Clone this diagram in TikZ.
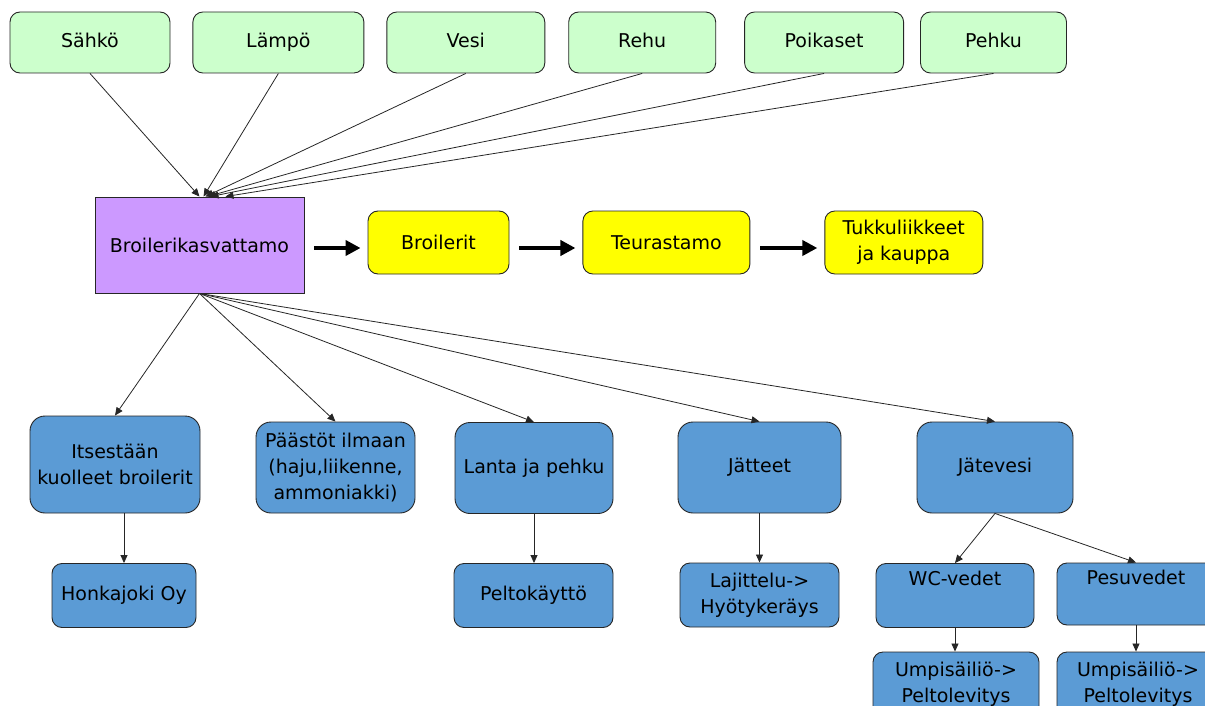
\documentclass[tikz,border=0pt]{standalone}
\usepackage{fontspec}
\setmainfont{DejaVu Sans}
\usepackage{tikz}
\usetikzlibrary{arrows.meta, positioning}

\definecolor{inputgreen}{HTML}{CCFFCC}
\definecolor{farmpurple}{HTML}{CC99FF}
\definecolor{chainyellow}{HTML}{FFFF00}
\definecolor{flowblue}{HTML}{5B9BD5}

\begin{document}
\begin{tikzpicture}[x=1pt, y=-1pt, >={Triangle[length=8pt, width=7pt]}, font=\fontsize{19}{26}\selectfont]

        % Styles
        \tikzstyle{box} = [draw=black!85, line width=0.9pt, inner sep=0pt, align=center, rounded corners=10pt]
        \tikzstyle{inputbox} = [box, fill=inputgreen, minimum height=61pt, text height=14pt, text depth=4pt]
        \tikzstyle{farmbox} = [box, fill=farmpurple, sharp corners, minimum width=209pt, minimum height=96pt]
        \tikzstyle{chainbox} = [box, fill=chainyellow, minimum height=63pt]
        \tikzstyle{outbox} = [box, fill=flowblue, rounded corners=15pt, minimum height=91pt]
        \tikzstyle{subbox} = [box, fill=flowblue, minimum height=64pt]
        \tikzstyle{thinarrow} = [->, draw=black!85, line width=0.8pt]
        \tikzstyle{thickarrow} = [-{Triangle[length=15pt, width=15pt]}, line width=4.5pt, shorten <=10pt, shorten >=7pt]

        \useasboundingbox (0,0) rectangle (1205,706);
        \clip (0,0) rectangle (1205,706);

        % Inputs
        \node[inputbox, minimum width=160pt] (sahko) at (90,42.5) {Sähkö};
        \node[inputbox, minimum width=171pt, right=22pt of sahko] (lampo) {Lämpö};
        \node[inputbox, minimum width=158pt, right=22pt of lampo] (vesi) {Vesi};
        \node[inputbox, minimum width=147pt, right=23pt of vesi] (rehu) {Rehu};
        \node[inputbox, minimum width=159pt, right=28pt of rehu] (poikaset) {Poikaset};
        \node[inputbox, minimum width=146pt, right=16pt of poikaset] (pehku) {Pehku};

        % Farm and product chain
        \node[farmbox] (kasv) at (199.5,245) {Broilerikasvattamo};
        \node[chainbox, minimum width=141pt] (broilerit) at (438.5,242.5) {Broilerit};
        \node[chainbox, minimum width=167pt, right=73pt of broilerit] (teurastamo) {Teurastamo};
        \node[chainbox, minimum width=158pt, right=74pt of teurastamo] (tukku) {Tukkuliikkeet\\ja kauppa};

        % Arrows into the farm
        \draw[thinarrow] (sahko.south) -- (kasv.north);
        \draw[thinarrow] (lampo.south) -- ([xshift=4pt]kasv.north);
        \draw[thinarrow] (vesi.south) -- ([xshift=6pt]kasv.north);
        \draw[thinarrow] (rehu.south) -- ([xshift=8pt]kasv.north);
        \draw[thinarrow] (poikaset.south) -- ([xshift=11pt]kasv.north);
        \draw[thinarrow] (pehku.south) -- ([xshift=26pt]kasv.north);

        % Product chain arrows
        \draw[thickarrow] ([yshift=-3pt]kasv.east) -- ([yshift=-5.5pt]broilerit.west);
        \draw[thickarrow] ([yshift=-5.5pt]broilerit.east) -- ([yshift=-5.5pt]teurastamo.west);
        \draw[thickarrow] ([yshift=-5.5pt]teurastamo.east) -- ([yshift=-5.5pt]tukku.west);

        % Outputs
        \node[outbox, minimum width=170pt, minimum height=97pt] (itse) at (115,464.5) {Itsestään\\kuolleet broilerit};
        \node[outbox, minimum width=159pt] (paastot) at (335.5,467.5) {Päästöt ilmaan\\(haju,liikenne,\\ammoniakki)};
        \node[outbox, minimum width=158pt] (lanta) at (534,468) {Lanta ja pehku};
        \node[outbox, minimum width=163pt] (jatteet) at (759.5,467.5) {Jätteet};
        \node[outbox, minimum width=156pt] (jatevesi) at (995,467.5) {Jätevesi};

        % Further handling
        \node[subbox, minimum width=144pt] (honka) at (124,595.5) {Honkajoki Oy};
        \node[subbox, minimum width=159pt] (pelto) at (533.5,595.5) {Peltokäyttö};
        \node[subbox, minimum width=159pt] (lajittelu) at (759.5,595) {Lajittelu->\\Hyötykeräys};
        \node[subbox, minimum width=158pt] (wc) at (955,595.5) {WC-vedet\\\strut};
        \node[subbox, minimum width=158pt, minimum height=62pt] (pesu) at (1136,594) {Pesuvedet\\\strut};
        \node[subbox, minimum width=166pt, minimum height=65pt] (umpiwc) at (956,684.5) {Umpisäiliö->\\Peltolevitys};
        \node[subbox, minimum width=162pt, minimum height=65pt] (umpipesu) at (1138,684.5) {Umpisäiliö->\\Peltolevitys};

        % Arrows out of the farm
        \draw[thinarrow] (kasv.south) -- (itse.north);
        \draw[thinarrow] (kasv.south) -- (paastot.north);
        \draw[thinarrow] (kasv.south) -- (lanta.north);
        \draw[thinarrow] (kasv.south) -- (jatteet.north);
        \draw[thinarrow] (kasv.south) -- (jatevesi.north);

        % Arrows to handling
        \draw[thinarrow] (honka.north |- itse.south) -- (honka.north);
        \draw[thinarrow] (lanta.south) -- (lanta.south |- pelto.north);
        \draw[thinarrow] (jatteet.south) -- (lajittelu.north);
        \draw[thinarrow] (jatevesi.south) -- (wc.north);
        \draw[thinarrow] (jatevesi.south) -- (pesu.north);
        \draw[thinarrow] (wc.south) -- (wc.south |- umpiwc.north);
        \draw[thinarrow] (pesu.south) -- (pesu.south |- umpipesu.north);

    \end{tikzpicture}
\end{document}
